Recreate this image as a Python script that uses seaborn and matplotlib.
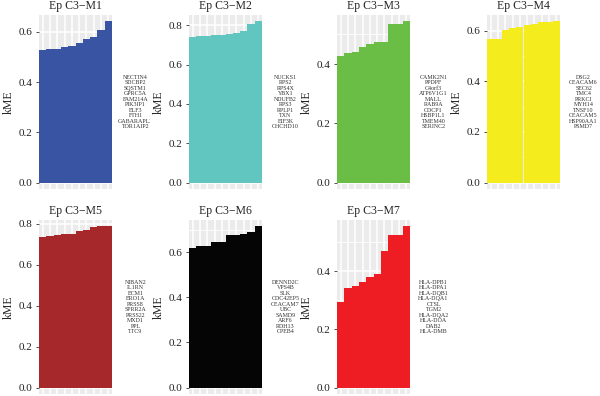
import pandas as pd
import matplotlib
matplotlib.use("Agg")
import matplotlib.pyplot as plt
from matplotlib.ticker import MultipleLocator, FormatStrFormatter
import seaborn as sns

modules = ["Ep C3\u2212M1", "Ep C3\u2212M2", "Ep C3\u2212M3", "Ep C3\u2212M4",
           "Ep C3\u2212M5", "Ep C3\u2212M6", "Ep C3\u2212M7"]
colors = ["#3A54A4", "#62C6C0", "#6BBE45", "#F4EC1C", "#A6282A", "#050505", "#EE1D24"]

kme_m1 = [0.530, 0.531, 0.534, 0.540, 0.546, 0.556, 0.573, 0.580, 0.607, 0.642]
kme_m2 = [0.741, 0.744, 0.746, 0.750, 0.753, 0.755, 0.761, 0.770, 0.809, 0.820]
kme_m3 = [0.427, 0.439, 0.442, 0.458, 0.468, 0.473, 0.476, 0.535, 0.537, 0.544]
kme_m4 = [0.569, 0.569, 0.602, 0.611, 0.617, 0.623, 0.625, 0.633, 0.636, 0.637]
kme_m5 = [0.734, 0.739, 0.744, 0.749, 0.750, 0.764, 0.770, 0.783, 0.787, 0.787]
kme_m6 = [0.618, 0.628, 0.628, 0.643, 0.647, 0.674, 0.674, 0.682, 0.688, 0.714]
kme_m7 = [0.294, 0.343, 0.349, 0.361, 0.378, 0.391, 0.467, 0.522, 0.522, 0.553]

genes_m1 = ["NECTIN4", "SDCBP2", "SQSTM1", "GPRC5A", "FAM214A", "PIK3IP1", "ELF3", "FTH1", "GABARAPL2", "TOR1AIP2"]
genes_m2 = ["NUCKS1", "RPS2", "RPS4X", "YBX1", "NDUFB2", "RPS3", "RPLP1", "TXN", "EIF3K", "CHCHD10"]
genes_m3 = ["CAMK2N1", "PPDPF", "C4orf3", "ATP6V1G1", "MALL", "RAB9A", "CDCP1", "HSBP1L1", "TMEM40", "SERINC2"]
genes_m4 = ["DSG2", "CEACAM6", "SEC62", "TMC4", "PRKCI", "MYH14", "TNSF10", "CEACAM5", "HSP90AA1", "PSMD7"]
genes_m5 = ["NIBAN2", "IL1RN", "ECM1", "ERO1A", "PRSS8", "SPRR2A", "PRSS22", "MXD1", "PPL", "TTC9"]
genes_m6 = ["DENND2C", "VPS4B", "SLK", "CDC42EP5", "CEACAM7", "UBC", "SAMD9", "ARF6", "RDH13", "CPEB4"]
genes_m7 = ["HLA-DPB1", "HLA-DPA1", "HLA-DQB1", "HLA-DQA1", "CTSL", "TGM2", "HLA-DQA2", "HLA-DOA", "DAB2", "HLA-DMB"]

kme = [kme_m1, kme_m2, kme_m3, kme_m4, kme_m5, kme_m6, kme_m7]
genes = [genes_m1, genes_m2, genes_m3, genes_m4, genes_m5, genes_m6, genes_m7]

sns.set_theme(style="darkgrid", rc={"axes.facecolor": "#EBEBEB", "grid.color": "white"})
plt.rcParams["font.family"] = ["Liberation Serif", "DejaVu Serif"]

W, H = 600, 396
fig = plt.figure(figsize=(6, 3.96), dpi=100)

# panel positions in pixels (left, top) ; plot area 73 x 174
lefts = [39, 189, 337, 487, 39, 189, 337]
tops = [15, 15, 15, 15, 220, 220, 220]
pw, ph = 73, 174

for i in range(7):
    l, t = lefts[i], tops[i]
    ax = fig.add_axes([l / W, 1 - (t + ph) / H, pw / W, ph / H])
    df = pd.DataFrame({"rank": [str(k) for k in range(10)], "kME": kme[i]})
    sns.barplot(data=df, x="rank", y="kME", color=colors[i], width=1, saturation=1,
                linewidth=0, ax=ax, zorder=3)
    top = max(kme[i])
    ax.set_ylim(-0.04 * top, 1.04 * top)
    ax.set_xlim(-0.5, 9.5)
    ax.yaxis.set_major_locator(MultipleLocator(0.2))
    ax.yaxis.set_minor_locator(MultipleLocator(0.1))
    ax.yaxis.set_major_formatter(FormatStrFormatter("%.1f"))
    ax.grid(which="major", axis="both", color="white", linewidth=1.1, zorder=0)
    ax.grid(which="minor", axis="y", color="white", linewidth=0.6, zorder=0)
    ax.set_axisbelow(True)
    ax.set_xticklabels([])
    ax.tick_params(axis="x", length=0)
    ax.tick_params(axis="y", which="major", length=2.5, width=0.6, color="#333333",
                   labelsize=8, pad=2, labelcolor="#222222", left=True)
    ax.tick_params(axis="y", which="minor", length=0)
    ax.set_xlabel("")
    ax.set_ylabel("kME", fontsize=8.5, labelpad=3)
    ax.set_title(modules[i], fontsize=8.5, pad=4)
    for s in ax.spines.values():
        s.set_visible(False)

    # gene list beside the panel, clipped at the column edge
    tx = fig.add_axes([(l + pw) / W, 1 - (t + ph) / H, (150 - pw - 39) / W, ph / H])
    tx.set_axis_off()
    tx.set_xlim(0, 1)
    tx.set_ylim(0, 1)
    tx.text(0.62, 0.5, "\n".join(genes[i]), ha="center", va="center",
            fontsize=4.3, linespacing=1.12, color="#333333", clip_on=True)

fig.savefig("out.png", dpi=100)
